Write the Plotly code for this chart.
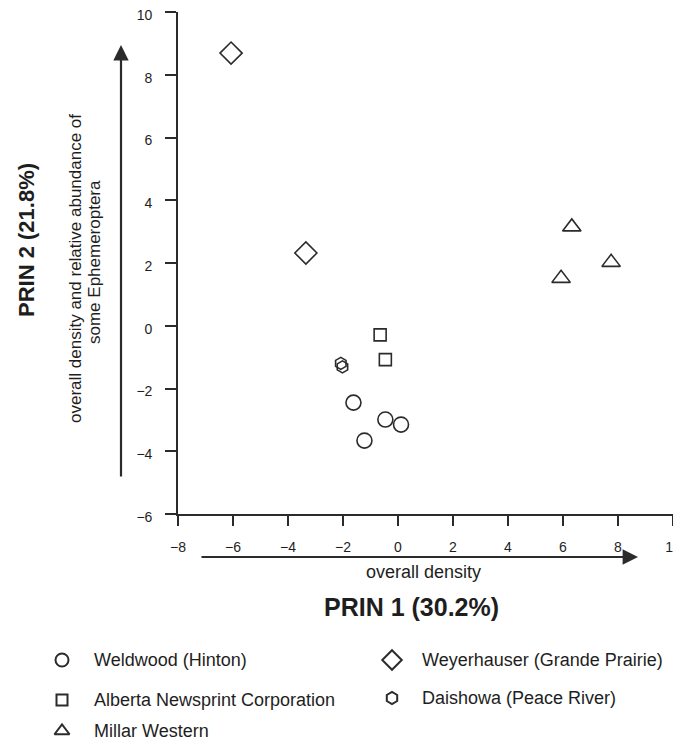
import plotly.graph_objects as go

# ---------------- data ----------------
weldwood_x = [-1.62, -0.46, 0.11, -1.22]
weldwood_y = [-2.45, -2.99, -3.15, -3.66]

alberta_x = [-0.65, -0.46]
alberta_y = [-0.29, -1.08]

millar_x = [6.32, 7.75, 5.93]
millar_y = [3.15, 2.02, 1.51]

weyer_x = [-6.07, -3.35]
weyer_y = [8.69, 2.32]

daishowa_x = [-2.08, -2.02]
daishowa_y = [-1.20, -1.31]

x_ticks = [-8, -6, -4, -2, 0, 2, 4, 6, 8, 10]
y_ticks = [-6, -4, -2, 0, 2, 4, 6, 8, 10]

legend_labels = ["Weldwood (Hinton)", "Alberta Newsprint Corporation", "Millar Western",
                 "Weyerhauser (Grande Prairie)", "Daishowa (Peace River)"]
legend_symbols = ["circle-open", "square-open", "triangle-up-open", "diamond-open", "hexagon-open"]

# ---------------- layout helpers (window pixels -> paper) ----------------
OFF = 8                      # page body margin
W, H = 681 - OFF, 749 - OFF
ML, MR, MT, MB = 0, 8, 4, 2
PW = W - ML - MR
PH = H - MT - MB


def px(xp):
    return (xp - OFF - ML) / PW


def py(yp):
    return (H - MB - (yp - OFF)) / PH


INK = "#2b2b2b"
TXT = "#1e1e1e"
FONT = "Liberation Sans, Arial, sans-serif"

fig = go.Figure()

series = [
    (weldwood_x, weldwood_y, "circle-open", 15),
    (alberta_x, alberta_y, "square-open", 12),
    (millar_x, millar_y, "triangle-up-open", 16),
    (weyer_x, weyer_y, "diamond-open", 17),
    (daishowa_x, daishowa_y, "hexagon-open", 12),
]
for name, (xs, ys, sym, sz) in zip(legend_labels, series):
    fig.add_trace(go.Scatter(
        x=xs, y=ys, mode="markers", name=name, showlegend=False,
        marker=dict(symbol=sym, size=sz, color=INK, line=dict(width=1.6, color=INK)),
        cliponaxis=False,
    ))

# legend drawn on a helper axis whose units are window pixels
leg_x = [62, 62, 62, 392, 392]
leg_y = [660, 700, 731, 660, 698]
leg_dx = [30, 30, 30, 28, 28]
leg_sizes = [13, 11, 13, 15, 12]
for lbl, sym, lx, ly, dx, sz in zip(legend_labels, legend_symbols, leg_x, leg_y, leg_dx, leg_sizes):
    fig.add_trace(go.Scatter(
        x=[lx], y=[ly], mode="markers", xaxis="x2", yaxis="y2", showlegend=False,
        marker=dict(symbol=sym, size=sz, color=INK, line=dict(width=2, color=INK)),
        cliponaxis=False, hoverinfo="skip",
    ))
    fig.add_annotation(x=lx + dx, y=ly, xref="x2", yref="y2", text=lbl, showarrow=False,
                       xanchor="left", yanchor="middle",
                       font=dict(family=FONT, size=18, color=TXT))

main_x0 = 178
main_y1 = 514
leg_top = 620
fig.update_layout(
    width=W, height=H,
    margin=dict(l=ML, r=MR, t=MT, b=MB),
    paper_bgcolor="white", plot_bgcolor="white",
    font=dict(family=FONT, color=TXT),
    xaxis=dict(domain=[px(main_x0), 1], range=[-8, 10], tickvals=x_ticks,
               showgrid=False, zeroline=False, showline=True, linecolor=INK, linewidth=1.6,
               ticks="outside", ticklen=10, tickwidth=1.6, tickcolor=INK,
               tickfont=dict(size=14, color=TXT), ticklabelstandoff=9,
               ticklabeloverflow="allow",
               anchor="y", automargin=False),
    yaxis=dict(domain=[py(main_y1), py(12)], range=[-6, 10], tickvals=y_ticks,
               showgrid=False, zeroline=False, showline=True, linecolor=INK, linewidth=1.6,
               ticks="outside", ticklen=11, tickwidth=1.6, tickcolor=INK,
               tickfont=dict(size=14, color=TXT), ticklabelstandoff=10,
               ticklabelshift=3, ticklabeloverflow="allow",
               anchor="x", automargin=False),
    xaxis2=dict(domain=[0, 1], range=[OFF + ML, OFF + W - MR], visible=False, anchor="y2"),
    yaxis2=dict(domain=[0, py(leg_top)], range=[OFF + H - MB, leg_top], visible=False, anchor="x2"),
)

# axis arrows
fig.add_annotation(x=px(638), y=py(557), xref="paper", yref="paper", text="",
                   showarrow=True, ax=-438, ay=0, axref="pixel", ayref="pixel",
                   arrowhead=2, arrowsize=1.4, arrowwidth=2.2, arrowcolor=INK)
fig.add_annotation(x=px(121), y=py(45), xref="paper", yref="paper", text="",
                   showarrow=True, ax=0, ay=433, axref="pixel", ayref="pixel",
                   arrowhead=2, arrowsize=1.4, arrowwidth=2.2, arrowcolor=INK)

# axis titles
fig.add_annotation(x=px(27), y=py(240), xref="paper", yref="paper",
                   xanchor="center", yanchor="middle",
                   text="<b>PRIN 2 (21.8%)</b>", textangle=-90, showarrow=False,
                   font=dict(family=FONT, size=22, color=TXT))
fig.add_annotation(x=px(75), y=py(269), xref="paper", yref="paper",
                   xanchor="center", yanchor="middle",
                   text="overall density and relative abundance of",
                   textangle=-90, showarrow=False,
                   font=dict(family=FONT, size=17, color=TXT))
fig.add_annotation(x=px(94), y=py(262), xref="paper", yref="paper",
                   xanchor="center", yanchor="middle",
                   text="some Ephemeroptera",
                   textangle=-90, showarrow=False,
                   font=dict(family=FONT, size=17, color=TXT))
fig.add_annotation(x=px(423), y=py(572), xref="paper", yref="paper",
                   xanchor="center", yanchor="middle",
                   text="overall density", showarrow=False,
                   font=dict(family=FONT, size=18, color=TXT))
fig.add_annotation(x=px(411), y=py(607), xref="paper", yref="paper",
                   xanchor="center", yanchor="middle",
                   text="<b>PRIN 1 (30.2%)</b>", showarrow=False,
                   font=dict(family=FONT, size=25, color=TXT))

fig.write_html("out.html")
